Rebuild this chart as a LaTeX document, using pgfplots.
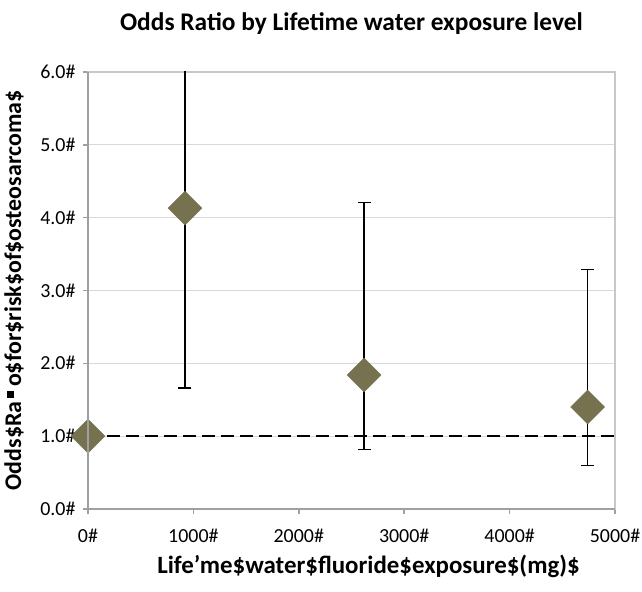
\documentclass[border=0pt]{standalone}
\usepackage{pgfplots}
\pgfplotsset{compat=1.18}
\usepackage{fontspec}
\setmainfont{Carlito}

\definecolor{markercol}{RGB}{118,114,80}
\definecolor{gridcol}{RGB}{217,217,217}
\definecolor{boxcol}{RGB}{200,200,200}
\definecolor{axiscol}{RGB}{160,160,160}

\begin{document}
\begin{tikzpicture}
\begin{axis}[
    scale only axis,
    width=527bp, height=437bp,
    xmin=0, xmax=5000,
    ymin=0, ymax=6,
    xtick={0,1000,2000,3000,4000,5000},
    xticklabels={0\#,1000\#,2000\#,3000\#,4000\#,5000\#},
    ytick={0,1,2,3,4,5,6},
    yticklabels={0.0\#,1.0\#,2.0\#,3.0\#,4.0\#,5.0\#,6.0\#},
    ymajorgrids,
    grid style={gridcol, line width=1.2bp},
    axis line style={boxcol, line width=1.5bp},
    xtick pos=bottom, ytick pos=left,
    tick align=outside,
    major tick length=5bp,
    tick style={axiscol, line width=1.5bp},
    ticklabel style={font=\fontsize{20}{22}\selectfont},
    xticklabel style={yshift=-12bp},
    yticklabel style={xshift=-4bp},
    title={Odds Ratio by Lifetime water exposure level},
    title style={font=\bfseries\fontsize{25.5}{28}\selectfont,
        at={([yshift=42bp]axis description cs:0.5,1)}, anchor=center},
    xlabel={Life'me\$water\$fluoride\$exposure\$(mg)\$},
    xlabel style={font=\bfseries\fontsize{25}{28}\selectfont,
        at={([xshift=17bp,yshift=-57bp]axis description cs:0.5,0)}, anchor=center},
    ylabel={Odds\$Ra\,\raisebox{0.3em}{\rule{0.28em}{0.28em}}\,o\$for\$risk\$of\$osteosarcoma\$},
    ylabel style={font=\bfseries\fontsize{24}{27}\selectfont,
        at={([xshift=-74bp]axis description cs:0,0.5)}, anchor=center},
]
    % reference line at odds ratio 1
    \addplot[black, line width=2.2bp, dash pattern=on 13bp off 6bp] coordinates {(0,1) (5000,1)};

    % confidence intervals
    \addplot[draw=none, mark=none,
        error bars/.cd, y dir=both, y explicit,
        error mark=-,
        error bar style={black, line width=1.5bp},
        error mark options={rotate=90, black, line width=1.5bp, mark size=6.5bp}]
    coordinates {
        (920,4.13)  += (0,3.0)  -= (0,2.47)
        (2620,1.84) += (0,2.37) -= (0,1.02)
        (4740,1.40) += (0,1.89) -= (0,0.80)
    };

    % odds ratios
    \addplot[only marks, mark=square*, mark size=12bp,
        mark options={rotate=45, fill=markercol, draw=markercol}]
    coordinates {(0,1) (920,4.13) (2620,1.84) (4740,1.40)};

    \coordinate (ll) at (rel axis cs:0,0);
    \coordinate (ur) at (rel axis cs:1,1);
\end{axis}
\draw[axiscol, line width=1.5bp] (ll |- ur) -- (ll) -- (ll -| ur);
\pgfresetboundingbox
\path ([shift={(-88bp,-82bp)}]ll) rectangle ([shift={(27bp,72bp)}]ur);
\end{tikzpicture}
\end{document}
